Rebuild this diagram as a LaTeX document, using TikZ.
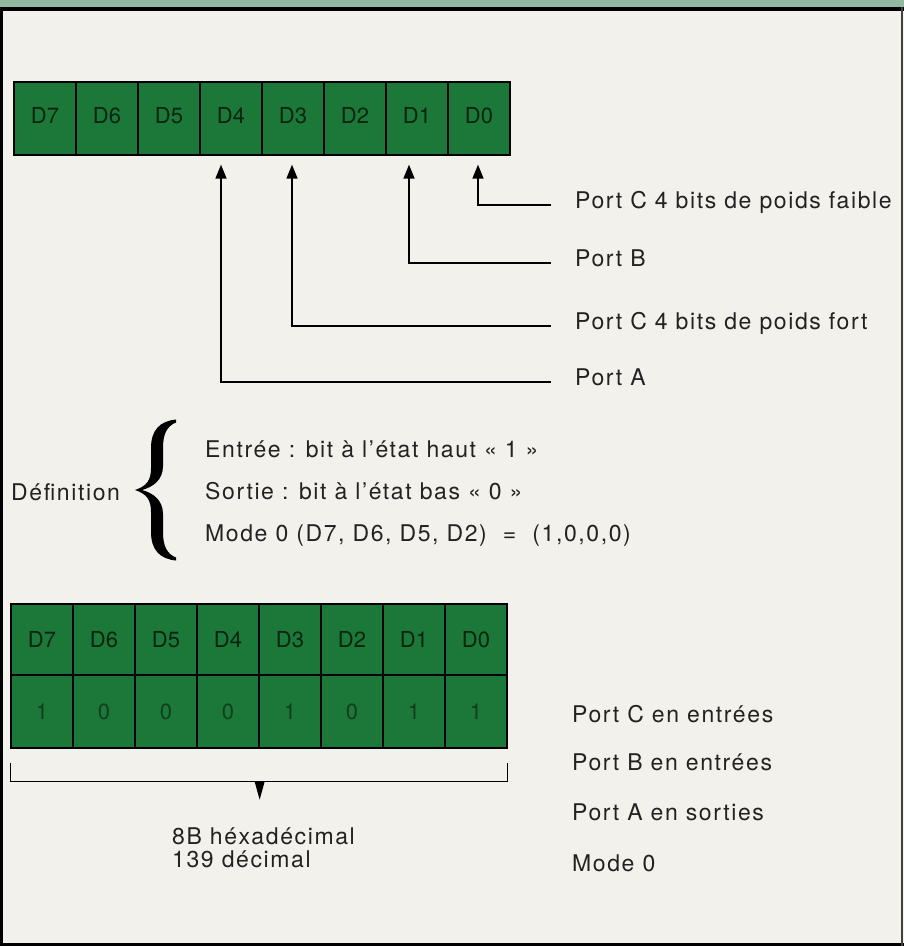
\documentclass[tikz,border=0pt]{standalone}
\usepackage{fontspec}
\setmainfont{TeX Gyre Heros}
\newfontfamily\lblfont[LetterSpace=7]{TeX Gyre Heros}
\newfontfamily\regfont[LetterSpace=1]{TeX Gyre Heros}
\usetikzlibrary{arrows.meta,calc}
\definecolor{paper}{RGB}{242,241,236}
\definecolor{strip}{RGB}{146,184,162}
\definecolor{regfill}{RGB}{27,120,56}
\definecolor{ink}{RGB}{34,34,34}
\definecolor{cellink}{RGB}{12,36,16}
\definecolor{bitink}{RGB}{18,62,30}
\begin{document}
\begin{tikzpicture}[x=1pt,y=-1pt,
  cell/.style={draw=black, line width=1.3pt, fill=regfill, minimum width=62pt,
    inner sep=0pt, font=\regfont\fontsize{22}{24}\selectfont, text=cellink},
  lbl/.style={font=\lblfont\fontsize{23}{26}\selectfont, text=ink, inner sep=0pt, anchor=base west},
  arr/.style={line width=1.6pt, -{Triangle[length=14pt,width=11pt]}, shorten >=9pt},
  conn/.style={line width=1.5pt}]
\useasboundingbox (0,0) rectangle (904,946);
% paper and frame
\fill[paper] (0,0) rectangle (904,946);
\fill[strip] (0,0) rectangle (904,8);
\fill[black] (0,7) rectangle (904,10.5);
\fill[black] (0,7) rectangle (3,946);
\fill[black] (0,942.5) rectangle (904,946);
\fill[black!75] (901,7) rectangle (903,946);

% top register
\foreach \i [evaluate=\i as \x using 45+62*(7-\i)] in {0,...,7}
  \node[cell, minimum height=73pt] (t\i) at (\x,118.5) {\raisebox{7pt}{D\i}};

% labels of the top register
\node[lbl] (l0) at (575,208) {Port C 4 bits de poids faible};
\node[lbl] (l1) at (575,266) {Port B};
\node[lbl] (l3) at (575,329) {Port C 4 bits de poids fort};
\node[lbl] (l4) at (575,385) {Port A};
\coordinate (e0) at ([xshift=-24pt,yshift=3pt]l0.base west);
\coordinate (e1) at ([xshift=-24pt,yshift=3pt]l1.base west);
\coordinate (e3) at ([xshift=-24pt,yshift=3pt]l3.base west);
\coordinate (e4) at ([xshift=-24pt,yshift=3pt]l4.base west);
\draw[arr] (e0) -| ([xshift=-1pt]t0.south);
\draw[arr] (e1) -| ([xshift=-8pt]t1.south);
\draw[arr] (e3) -| ([xshift=-1pt]t3.south);
\draw[arr] (e4) -| ([xshift=-10pt]t4.south);

% definition
\node[lbl] (def) at (11,500) {Définition};
\fill[black] (135,490)
  .. controls (147,486) and (151,480) .. (151,468) -- (151,448)
  .. controls (151,430) and (160,421) .. (176,419.5) -- (176,422.5)
  .. controls (167,426) and (163,434) .. (163,448) -- (163,466)
  .. controls (163,480) and (153,487) .. (142,490)
  .. controls (153,493) and (163,500) .. (163,514) -- (163,532)
  .. controls (163,546) and (167,554) .. (176,557.5) -- (176,560.5)
  .. controls (160,559) and (151,550) .. (151,532) -- (151,512)
  .. controls (151,500) and (147,494) .. (135,490) -- cycle;
\node[lbl] (d1) at (205,457) {Entrée : bit à l’état haut « 1 »};
\node[lbl] (d2) at (205,499) {Sortie : bit à l’état bas « 0 »};
\node[lbl] (d3) at (205,541) {Mode 0 (D7, D6, D5, D2) \ = \ (1,0,0,0)};

% bottom register
\foreach \i/\b [evaluate=\i as \x using 42+62*(7-\i)] in {7/1,6/0,5/0,4/0,3/1,2/0,1/1,0/1}{
  \node[cell, minimum height=71pt] (b\i) at (\x,639.5) {D\i};
  \node[cell, minimum height=73pt, text=bitink] (v\i) at (\x,711.5) {\b};
}

% bracket
\coordinate (k1) at ([yshift=-14pt]v7.south west);
\coordinate (k2) at ([yshift=-33pt]v7.south west);
\coordinate (k3) at ([yshift=-33pt]v0.south east);
\coordinate (k4) at ([yshift=-14pt]v0.south east);
\draw[line width=1.6pt] (k1) -- (k2) -- (k3) -- (k4);
\coordinate (tp) at ([yshift=-33pt]v4.south east);
\fill[black] ([xshift=-5pt]tp) -- ([xshift=5pt]tp) -- ([yshift=-18pt]tp) -- cycle;

\node[lbl] (hex) at (172,844) {8B héxadécimal};
\node[lbl] (dec) at (172,867) {139 décimal};

% right labels
\node[lbl] (r1) at (572,722) {Port C en entrées};
\node[lbl] (r2) at (572,770) {Port B en entrées};
\node[lbl] (r3) at (572,820) {Port A en sorties};
\node[lbl] (r4) at (572,871) {Mode 0};
\end{tikzpicture}
\end{document}
